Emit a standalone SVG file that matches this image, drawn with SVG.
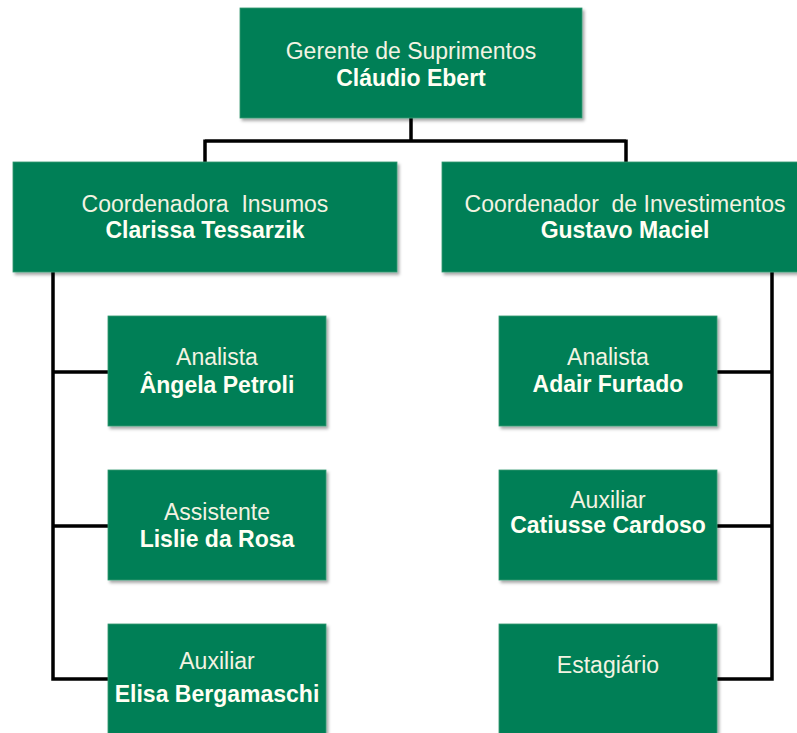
<svg xmlns="http://www.w3.org/2000/svg" width="797" height="733" viewBox="0 0 797 733">
<defs>
<filter id="sh" x="-5%" y="-5%" width="112%" height="115%">
<feDropShadow dx="2" dy="2.5" stdDeviation="1.5" flood-color="#000" flood-opacity="0.35"/>
</filter>
</defs>
<style>
.box{fill:#007F57;stroke:#2E9870;stroke-width:0.8;filter:url(#sh);}
.t{font-family:"Liberation Sans",Arial,sans-serif;font-size:23px;text-anchor:middle;fill:#F3F3E2;}
.b{font-weight:bold;fill:#FFFFF4;}
.c{fill:none;stroke:#000;stroke-width:3.5;stroke-linejoin:miter;}
</style>
<rect width="797" height="733" fill="#FFFFFF"/>
<g id="connectors">
<path class="c" d="M411,118 V141 M205,141 H626 M205,139.5 V162 M626,139.5 V162"/>
<path class="c" d="M53,272 V679 H108 M53,372 H108 M53,526 H108"/>
<path class="c" d="M772,272 V679 H717 M772,372 H717 M772,526 H717"/>
</g>
<g id="gerente">
<rect class="box" x="240" y="8" width="342" height="110"/>
<text class="t" x="411" y="59">Gerente de Suprimentos</text>
<text class="t b" x="411" y="86">Cláudio Ebert</text>
</g>
<g id="coord-insumos">
<rect class="box" x="13" y="162" width="384" height="110"/>
<text class="t" x="205" y="212" xml:space="preserve">Coordenadora  Insumos</text>
<text class="t b" x="205" y="238">Clarissa Tessarzik</text>
</g>
<g id="coord-investimentos">
<rect class="box" x="442" y="162" width="366" height="110"/>
<text class="t" x="625" y="212" xml:space="preserve">Coordenador  de Investimentos</text>
<text class="t b" x="625" y="238">Gustavo Maciel</text>
</g>
<g id="angela">
<rect class="box" x="108" y="316" width="218" height="110"/>
<text class="t" x="217" y="365">Analista</text>
<text class="t b" x="217" y="393">Ângela Petroli</text>
</g>
<g id="lislie">
<rect class="box" x="108" y="470" width="218" height="110"/>
<text class="t" x="217" y="520">Assistente</text>
<text class="t b" x="217" y="547">Lislie da Rosa</text>
</g>
<g id="elisa">
<rect class="box" x="108" y="624" width="218" height="115"/>
<text class="t" x="217" y="669">Auxiliar</text>
<text class="t b" x="217" y="702">Elisa Bergamaschi</text>
</g>
<g id="adair">
<rect class="box" x="499" y="316" width="218" height="110"/>
<text class="t" x="608" y="365">Analista</text>
<text class="t b" x="608" y="392">Adair Furtado</text>
</g>
<g id="catiusse">
<rect class="box" x="499" y="470" width="218" height="110"/>
<text class="t" x="608" y="508">Auxiliar</text>
<text class="t b" x="608" y="533">Catiusse Cardoso</text>
</g>
<g id="estagiario">
<rect class="box" x="499" y="624" width="218" height="115"/>
<text class="t" x="608" y="673">Estagiário</text>
</g>
</svg>
